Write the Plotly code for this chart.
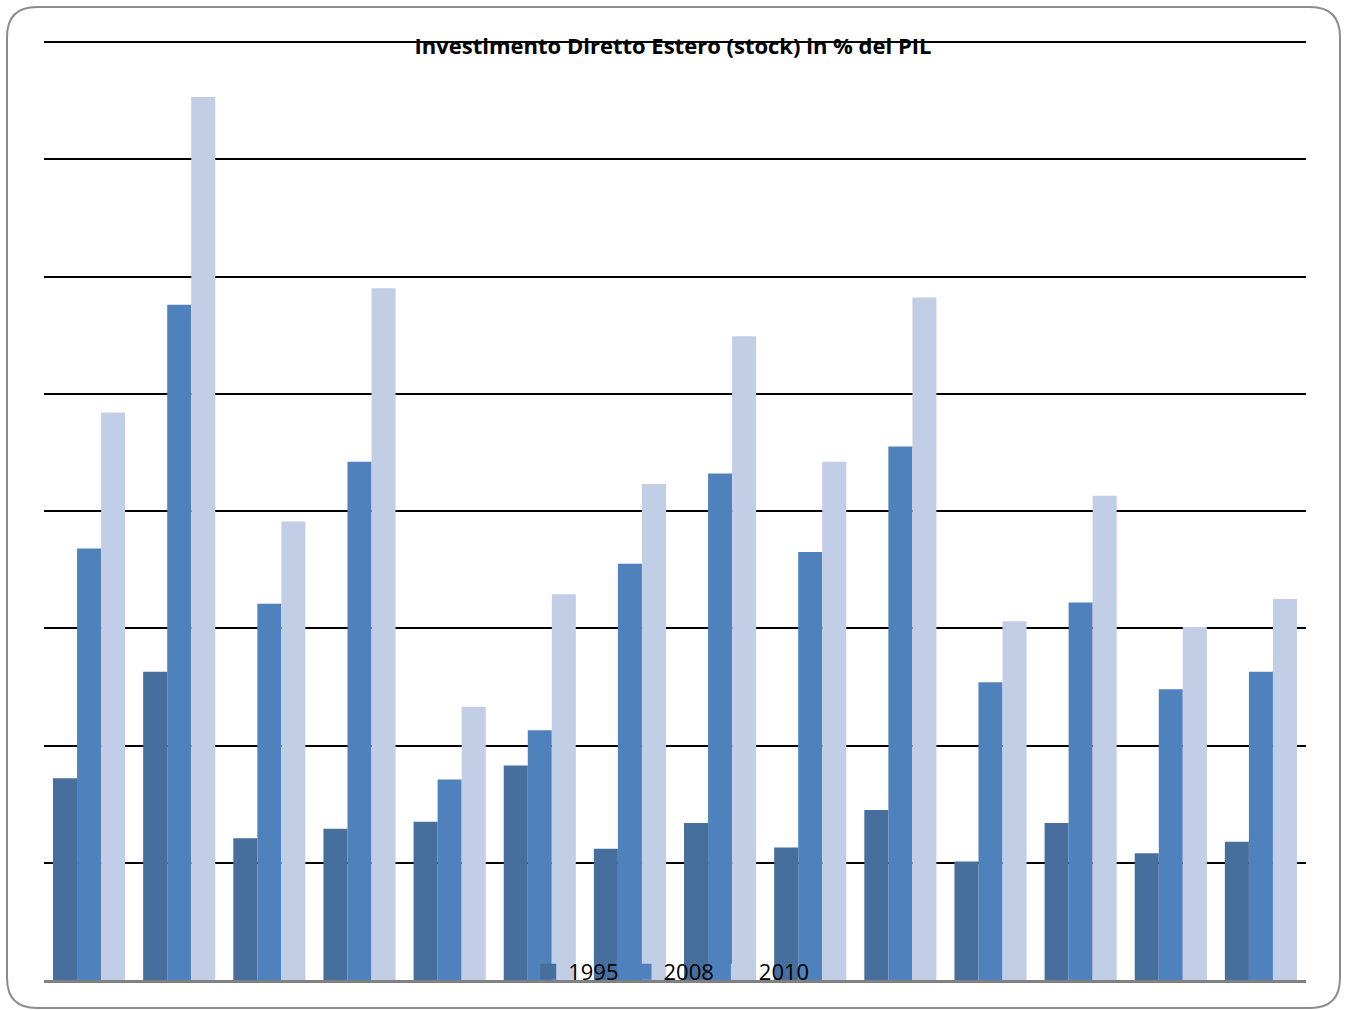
import plotly.graph_objects as go

categories = ["Paese 1", "Paese 2", "Paese 3", "Paese 4", "Paese 5", "Paese 6", "Paese 7",
              "Paese 8", "Paese 9", "Paese 10", "Paese 11", "Paese 12", "Paese 13", "Paese 14"]
v1995 = [17.2, 26.3, 12.1, 12.9, 13.5, 18.3, 11.2, 13.4, 11.3, 14.5, 10.1, 13.4, 10.8, 11.8]
v2008 = [36.8, 57.6, 32.1, 44.2, 17.1, 21.3, 35.5, 43.2, 36.5, 45.5, 25.4, 32.2, 24.8, 26.3]
v2010 = [48.4, 75.3, 39.1, 59.0, 23.3, 32.9, 42.3, 54.9, 44.2, 58.2, 30.6, 41.3, 30.1, 32.5]
series_names = ["1995", "2008", "2010"]
colors = ["#466F9D", "#4F81BD", "#C2CDE6"]
y_max = 80

W, H = 1346, 1010
L, R, T, B = 44, 40, 42, 30

fig = go.Figure()
for name, vals, c in zip(series_names, [v1995, v2008, v2010], colors):
    fig.add_trace(go.Bar(x=categories, y=vals, name=name, showlegend=False,
                         marker=dict(color=c, line=dict(width=0))))
for name, c in zip(series_names, colors):
    fig.add_trace(go.Scatter(x=[None], y=[None], mode="markers", name=name,
                             marker=dict(symbol="square", size=16, color=c)))

pw = W - L - R
ph = H - T - B
def px(x):
    return (x - L) / pw
def py(y):
    return (H - B - y) / ph

x0, x1, y0, y1, r = 7, 1340, 7, 1008, 30
rx, ry = r / pw, r / ph
path = (f"M {px(x0)+rx} {py(y0)} L {px(x1)-rx} {py(y0)} Q {px(x1)} {py(y0)} {px(x1)} {py(y0)-ry} "
        f"L {px(x1)} {py(y1)+ry} Q {px(x1)} {py(y1)} {px(x1)-rx} {py(y1)} "
        f"L {px(x0)+rx} {py(y1)} Q {px(x0)} {py(y1)} {px(x0)} {py(y1)+ry} "
        f"L {px(x0)} {py(y0)-ry} Q {px(x0)} {py(y0)} {px(x0)+rx} {py(y0)} Z")

fig.update_layout(
    width=W, height=H,
    margin=dict(l=L, r=R, t=T, b=B),
    paper_bgcolor="white", plot_bgcolor="white",
    barmode="group", bargap=0.2, bargroupgap=0,
    title=dict(text="<b>Investimento Diretto Estero (stock) in % del PIL</b>",
               x=0.5, xanchor="center", y=1 - 46 / H, yanchor="middle",
               font=dict(family="Open Sans", size=22, color="black")),
    font=dict(family="Open Sans", color="black"),
    legend=dict(orientation="h", x=0.497, xanchor="center", y=py(972), yanchor="middle",
                bgcolor="rgba(0,0,0,0)", font=dict(size=22, color="black"),
                itemwidth=30, itemsizing="trace", traceorder="normal"),
    xaxis=dict(showticklabels=False, showgrid=False, ticks="", showline=True,
               linecolor="#808080", linewidth=3),
    yaxis=dict(range=[0, y_max], dtick=10, showticklabels=False, ticks="",
               showgrid=True, gridcolor="black", gridwidth=2, zeroline=False, showline=False),
    shapes=[
        dict(type="line", xref="paper", yref="paper", x0=0, x1=1, y0=1, y1=1,
             line=dict(color="black", width=2), layer="below"),
        dict(type="path", xref="paper", yref="paper", path=path,
             line=dict(color="#8C8C8C", width=2), fillcolor="rgba(0,0,0,0)", layer="above"),
    ],
)

fig.write_html("out.html")
